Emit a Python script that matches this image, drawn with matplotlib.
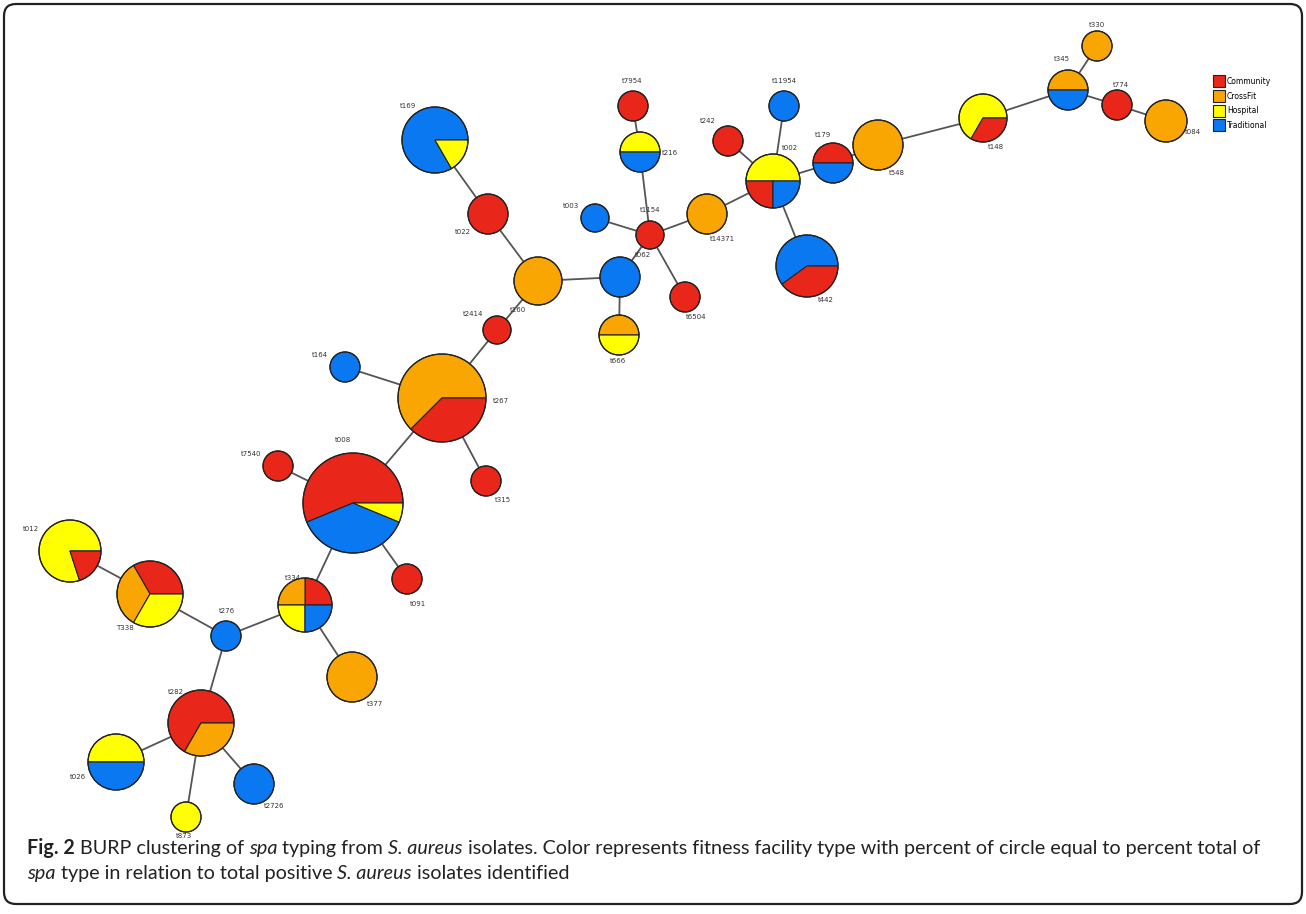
import matplotlib
matplotlib.use('Agg')
from matplotlib import pyplot as plt
from matplotlib.patches import Wedge, Circle, FancyBboxPatch
from matplotlib.lines import Line2D

### Data ###
categories = ['Community', 'CrossFit', 'Hospital', 'Traditional']
colors = {'Community': '#E8261A', 'CrossFit': '#F9A602',
          'Hospital': '#FFFF00', 'Traditional': '#0A78F0'}

# spa types, slices (category, isolates) in drawing order
spa_types = ['t330', 't345', 't774', 't084', 't148', 't548', 't179', 't002',
             't11954', 't242', 't442', 't14371', 't1154', 't7954', 't216',
             't003', 't6504', 't062', 't666', 't160', 't022', 't169', 't2414',
             't267', 't164', 't315', 't7540', 't008', 't091', 't334', 't377',
             't276', 'T338', 't012', 't282', 't026', 't873', 't2726']

slices = {
    't330': [('CrossFit', 1)],
    't345': [('CrossFit', 1), ('Traditional', 1)],
    't774': [('Community', 1)],
    't084': [('CrossFit', 1)],
    't148': [('Hospital', 2), ('Community', 1)],
    't548': [('CrossFit', 1)],
    't179': [('Community', 1), ('Traditional', 1)],
    't002': [('Hospital', 2), ('Community', 1), ('Traditional', 1)],
    't11954': [('Traditional', 1)],
    't242': [('Community', 1)],
    't442': [('Traditional', 3), ('Community', 2)],
    't14371': [('CrossFit', 1)],
    't1154': [('Community', 1)],
    't7954': [('Community', 1)],
    't216': [('Hospital', 1), ('Traditional', 1)],
    't003': [('Traditional', 1)],
    't6504': [('Community', 1)],
    't062': [('Traditional', 1)],
    't666': [('CrossFit', 1), ('Hospital', 1)],
    't160': [('CrossFit', 1)],
    't022': [('Community', 1)],
    't169': [('Traditional', 5), ('Hospital', 1)],
    't2414': [('Community', 1)],
    't267': [('CrossFit', 5), ('Community', 3)],
    't164': [('Traditional', 1)],
    't315': [('Community', 1)],
    't7540': [('Community', 1)],
    't008': [('Community', 9), ('Traditional', 6), ('Hospital', 1)],
    't091': [('Community', 1)],
    't334': [('Community', 1), ('CrossFit', 1), ('Hospital', 1), ('Traditional', 1)],
    't377': [('CrossFit', 1)],
    't276': [('Traditional', 1)],
    'T338': [('Community', 1), ('CrossFit', 1), ('Hospital', 1)],
    't012': [('Hospital', 4), ('Community', 1)],
    't282': [('Community', 2), ('CrossFit', 1)],
    't026': [('Hospital', 1), ('Traditional', 1)],
    't873': [('Hospital', 1)],
    't2726': [('Traditional', 1)],
}

# vertex size as drawn
node_size = [15, 20, 15, 21, 24, 25, 20, 27, 15, 15, 31, 20, 14, 15, 20,
             14, 15, 20, 20, 24, 20, 33, 14, 44, 15, 15, 15, 50, 15, 27, 25,
             15, 33, 31, 33, 28, 15, 20]

edges = [('t330', 't345'), ('t345', 't774'), ('t774', 't084'), ('t345', 't148'),
         ('t148', 't548'), ('t548', 't179'), ('t179', 't002'), ('t002', 't11954'),
         ('t002', 't242'), ('t002', 't442'), ('t002', 't14371'), ('t14371', 't1154'),
         ('t1154', 't216'), ('t216', 't7954'), ('t1154', 't003'), ('t1154', 't6504'),
         ('t1154', 't062'), ('t062', 't160'), ('t062', 't666'), ('t160', 't022'),
         ('t022', 't169'), ('t160', 't2414'), ('t2414', 't267'), ('t267', 't164'),
         ('t267', 't315'), ('t267', 't008'), ('t008', 't7540'), ('t008', 't091'),
         ('t008', 't334'), ('t334', 't377'), ('t334', 't276'), ('t276', 'T338'),
         ('T338', 't012'), ('t276', 't282'), ('t282', 't026'), ('t282', 't873'),
         ('t282', 't2726')]

# layout (pixel space of the figure)
layout = {
    't330': (1097, 46), 't345': (1068, 90), 't774': (1117, 105), 't084': (1166, 121),
    't148': (983, 118), 't548': (878, 145), 't179': (833, 163), 't002': (773, 181),
    't11954': (784, 106), 't242': (728, 141), 't442': (807, 266), 't14371': (707, 214),
    't1154': (650, 235), 't7954': (633, 106), 't216': (640, 152), 't003': (595, 218),
    't6504': (685, 297), 't062': (620, 277), 't666': (619, 335), 't160': (538, 281),
    't022': (488, 214), 't169': (435, 140), 't2414': (497, 330), 't267': (442, 398),
    't164': (345, 367), 't315': (486, 481), 't7540': (278, 466), 't008': (353, 503),
    't091': (407, 579), 't334': (305, 605), 't377': (352, 677), 't276': (226, 636),
    'T338': (150, 594), 't012': (70, 551), 't282': (201, 723), 't026': (116, 762),
    't873': (186, 817), 't2726': (254, 784),
}
label_pos = {
    't330': (1097, 25), 't345': (1062, 59), 't774': (1121, 85), 't084': (1193, 132),
    't148': (996, 147), 't548': (897, 173), 't179': (823, 135), 't002': (790, 148),
    't11954': (784, 81), 't242': (708, 121), 't442': (826, 300), 't14371': (722, 239),
    't1154': (650, 210), 't7954': (632, 81), 't216': (670, 153), 't003': (571, 206),
    't6504': (696, 317), 't062': (643, 255), 't666': (618, 361), 't160': (518, 310),
    't022': (463, 232), 't169': (408, 106), 't2414': (473, 314), 't267': (501, 401),
    't164': (320, 355), 't315': (503, 500), 't7540': (251, 454), 't008': (343, 440),
    't091': (418, 604), 't334': (293, 578), 't377': (375, 704), 't276': (227, 611),
    'T338': (125, 628), 't012': (31, 529), 't282': (176, 692), 't026': (78, 777),
    't873': (184, 836), 't2726': (274, 806),
}

fig = plt.figure(figsize=(13.06, 9.14), dpi=100)
ax = fig.add_axes([0, 0, 1, 1])
ax.set_xlim(0, 1306)
ax.set_ylim(914, 0)
ax.axis('off')

# frame around the figure panel
ax.add_patch(FancyBboxPatch((4, 4), 1298, 900, boxstyle='round,pad=0,rounding_size=12',
                            fc='white', ec='#222222', lw=1.6, zorder=0))

for a, b in edges:
    (x1, y1), (x2, y2) = layout[a], layout[b]
    ax.plot([x1, x2], [y1, y2], color='#555555', lw=1.3, zorder=1)

for name, r in zip(spa_types, node_size):
    cx, cy = layout[name]
    parts = slices[name]
    total = sum(n for _, n in parts)
    start = 0.0
    for cat, n in parts:
        end = start + 360.0 * n / total
        # y axis is inverted, so counter-clockwise on screen is negative angle
        ax.add_patch(Wedge((cx, cy), r, -end, -start, fc=colors[cat],
                           ec='#222222', lw=0.8, zorder=2))
        start = end
    ax.add_patch(Circle((cx, cy), r, fc='none', ec='#222222', lw=0.9, zorder=3))
    lx, ly = label_pos[name]
    ax.text(lx, ly, name, fontsize=5, color='#333333', ha='center', va='center', zorder=4)

# legend
handles = [Line2D([], [], marker='s', ls='', ms=8, mfc=colors[c], mec='#222222', mew=0.8)
           for c in categories]
ax.legend(handles, categories, loc='upper left', bbox_to_anchor=(1208, 70),
          bbox_transform=ax.transData, frameon=False, fontsize=5.5,
          handletextpad=0.6, labelspacing=0.75, handlelength=1.0)

# caption
caption = [
    [('Fig. 2', 'bold', 'normal'), (' BURP clustering of ', 'normal', 'normal'),
     ('spa', 'normal', 'italic'), (' typing from ', 'normal', 'normal'),
     ('S. aureus', 'normal', 'italic'),
     (' isolates. Color represents fitness facility type with percent of circle equal to percent total of',
      'normal', 'normal')],
    [('spa', 'normal', 'italic'),
     (' type in relation to total positive ', 'normal', 'normal'),
     ('S. aureus', 'normal', 'italic'), (' isolates identified', 'normal', 'normal')],
]
fam = ['Lato', 'DejaVu Sans']
renderer = fig.canvas.get_renderer()
for i, line in enumerate(caption):
    x = 27
    y = 854 + 25 * i
    for txt, weight, style in line:
        t = ax.text(x, y, txt, fontsize=14.2, family=fam, weight=weight, style=style,
                    color='#222222', ha='left', va='baseline')
        bb = t.get_window_extent(renderer=renderer)
        x += bb.width

fig.savefig('out.png', dpi=100)
